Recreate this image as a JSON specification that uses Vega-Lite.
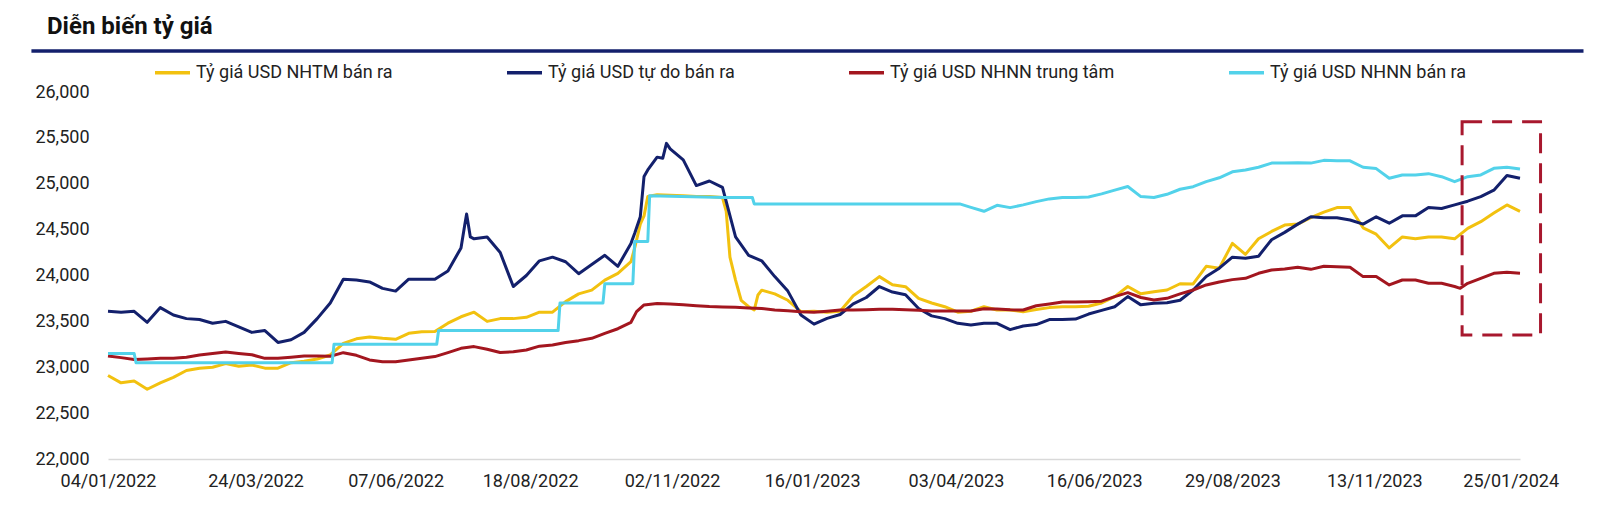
{
  "$schema": "https://vega.github.io/schema/vega-lite/v6.json",
  "width": 1412,
  "height": 367,
  "autosize": {"type": "none"},
  "padding": {"left": 108, "top": 92, "right": 80, "bottom": 58},
  "background": "white",
  "title": {"text": "Diễn biến tỷ giá", "anchor": "start", "frame": "group", "font": "Roboto", "fontSize": 24, "fontWeight": "bold", "color": "#111111", "dx": -61, "dy": 19, "baseline": "alphabetic", "offset": 10},
  "config": {"view": {"stroke": null}, "axisY": {"format": ",.0f"}},
  "layer": [
    {
      "data": {"values": [
        {"d":"2022-01-04","s":"Tỷ giá USD NHTM bán ra","v":22910},{"d":"2022-01-11","s":"Tỷ giá USD NHTM bán ra","v":22830},{"d":"2022-01-18","s":"Tỷ giá USD NHTM bán ra","v":22850},{"d":"2022-01-25","s":"Tỷ giá USD NHTM bán ra","v":22760},{"d":"2022-02-01","s":"Tỷ giá USD NHTM bán ra","v":22830},{"d":"2022-02-08","s":"Tỷ giá USD NHTM bán ra","v":22890},{"d":"2022-02-15","s":"Tỷ giá USD NHTM bán ra","v":22965},{"d":"2022-02-22","s":"Tỷ giá USD NHTM bán ra","v":22990},{"d":"2022-03-01","s":"Tỷ giá USD NHTM bán ra","v":23000},{"d":"2022-03-08","s":"Tỷ giá USD NHTM bán ra","v":23040},{"d":"2022-03-15","s":"Tỷ giá USD NHTM bán ra","v":23010},{"d":"2022-03-22","s":"Tỷ giá USD NHTM bán ra","v":23025},{"d":"2022-03-29","s":"Tỷ giá USD NHTM bán ra","v":22990},{"d":"2022-04-05","s":"Tỷ giá USD NHTM bán ra","v":22990},{"d":"2022-04-12","s":"Tỷ giá USD NHTM bán ra","v":23050},{"d":"2022-04-19","s":"Tỷ giá USD NHTM bán ra","v":23065},{"d":"2022-04-26","s":"Tỷ giá USD NHTM bán ra","v":23090},{"d":"2022-05-03","s":"Tỷ giá USD NHTM bán ra","v":23134},{"d":"2022-05-10","s":"Tỷ giá USD NHTM bán ra","v":23261},{"d":"2022-05-17","s":"Tỷ giá USD NHTM bán ra","v":23310},{"d":"2022-05-24","s":"Tỷ giá USD NHTM bán ra","v":23330},{"d":"2022-05-31","s":"Tỷ giá USD NHTM bán ra","v":23315},{"d":"2022-06-07","s":"Tỷ giá USD NHTM bán ra","v":23305},{"d":"2022-06-14","s":"Tỷ giá USD NHTM bán ra","v":23370},{"d":"2022-06-21","s":"Tỷ giá USD NHTM bán ra","v":23388},{"d":"2022-06-28","s":"Tỷ giá USD NHTM bán ra","v":23390},{"d":"2022-07-05","s":"Tỷ giá USD NHTM bán ra","v":23480},{"d":"2022-07-12","s":"Tỷ giá USD NHTM bán ra","v":23550},{"d":"2022-07-19","s":"Tỷ giá USD NHTM bán ra","v":23600},{"d":"2022-07-26","s":"Tỷ giá USD NHTM bán ra","v":23500},{"d":"2022-08-02","s":"Tỷ giá USD NHTM bán ra","v":23530},{"d":"2022-08-09","s":"Tỷ giá USD NHTM bán ra","v":23530},{"d":"2022-08-16","s":"Tỷ giá USD NHTM bán ra","v":23544},{"d":"2022-08-23","s":"Tỷ giá USD NHTM bán ra","v":23600},{"d":"2022-08-30","s":"Tỷ giá USD NHTM bán ra","v":23600},{"d":"2022-09-06","s":"Tỷ giá USD NHTM bán ra","v":23715},{"d":"2022-09-13","s":"Tỷ giá USD NHTM bán ra","v":23800},{"d":"2022-09-20","s":"Tỷ giá USD NHTM bán ra","v":23840},{"d":"2022-09-27","s":"Tỷ giá USD NHTM bán ra","v":23950},{"d":"2022-10-04","s":"Tỷ giá USD NHTM bán ra","v":24024},{"d":"2022-10-11","s":"Tỷ giá USD NHTM bán ra","v":24150},{"d":"2022-10-13","s":"Tỷ giá USD NHTM bán ra","v":24300},{"d":"2022-10-16","s":"Tỷ giá USD NHTM bán ra","v":24560},{"d":"2022-10-18","s":"Tỷ giá USD NHTM bán ra","v":24650},{"d":"2022-10-20","s":"Tỷ giá USD NHTM bán ra","v":24860},{"d":"2022-10-25","s":"Tỷ giá USD NHTM bán ra","v":24880},{"d":"2022-11-01","s":"Tỷ giá USD NHTM bán ra","v":24875},{"d":"2022-11-08","s":"Tỷ giá USD NHTM bán ra","v":24870},{"d":"2022-11-15","s":"Tỷ giá USD NHTM bán ra","v":24860},{"d":"2022-11-22","s":"Tỷ giá USD NHTM bán ra","v":24860},{"d":"2022-11-29","s":"Tỷ giá USD NHTM bán ra","v":24850},{"d":"2022-12-01","s":"Tỷ giá USD NHTM bán ra","v":24700},{"d":"2022-12-03","s":"Tỷ giá USD NHTM bán ra","v":24200},{"d":"2022-12-06","s":"Tỷ giá USD NHTM bán ra","v":23950},{"d":"2022-12-09","s":"Tỷ giá USD NHTM bán ra","v":23730},{"d":"2022-12-13","s":"Tỷ giá USD NHTM bán ra","v":23660},{"d":"2022-12-16","s":"Tỷ giá USD NHTM bán ra","v":23624},{"d":"2022-12-18","s":"Tỷ giá USD NHTM bán ra","v":23788},{"d":"2022-12-20","s":"Tỷ giá USD NHTM bán ra","v":23840},{"d":"2022-12-27","s":"Tỷ giá USD NHTM bán ra","v":23800},{"d":"2023-01-03","s":"Tỷ giá USD NHTM bán ra","v":23730},{"d":"2023-01-10","s":"Tỷ giá USD NHTM bán ra","v":23606},{"d":"2023-01-17","s":"Tỷ giá USD NHTM bán ra","v":23610},{"d":"2023-01-24","s":"Tỷ giá USD NHTM bán ra","v":23600},{"d":"2023-01-31","s":"Tỷ giá USD NHTM bán ra","v":23610},{"d":"2023-02-07","s":"Tỷ giá USD NHTM bán ra","v":23780},{"d":"2023-02-14","s":"Tỷ giá USD NHTM bán ra","v":23880},{"d":"2023-02-21","s":"Tỷ giá USD NHTM bán ra","v":23988},{"d":"2023-02-28","s":"Tỷ giá USD NHTM bán ra","v":23900},{"d":"2023-03-07","s":"Tỷ giá USD NHTM bán ra","v":23878},{"d":"2023-03-14","s":"Tỷ giá USD NHTM bán ra","v":23750},{"d":"2023-03-21","s":"Tỷ giá USD NHTM bán ra","v":23700},{"d":"2023-03-28","s":"Tỷ giá USD NHTM bán ra","v":23660},{"d":"2023-04-04","s":"Tỷ giá USD NHTM bán ra","v":23600},{"d":"2023-04-11","s":"Tỷ giá USD NHTM bán ra","v":23610},{"d":"2023-04-18","s":"Tỷ giá USD NHTM bán ra","v":23660},{"d":"2023-04-25","s":"Tỷ giá USD NHTM bán ra","v":23624},{"d":"2023-05-02","s":"Tỷ giá USD NHTM bán ra","v":23624},{"d":"2023-05-09","s":"Tỷ giá USD NHTM bán ra","v":23606},{"d":"2023-05-16","s":"Tỷ giá USD NHTM bán ra","v":23630},{"d":"2023-05-23","s":"Tỷ giá USD NHTM bán ra","v":23650},{"d":"2023-05-30","s":"Tỷ giá USD NHTM bán ra","v":23660},{"d":"2023-06-06","s":"Tỷ giá USD NHTM bán ra","v":23660},{"d":"2023-06-13","s":"Tỷ giá USD NHTM bán ra","v":23665},{"d":"2023-06-20","s":"Tỷ giá USD NHTM bán ra","v":23700},{"d":"2023-06-27","s":"Tỷ giá USD NHTM bán ra","v":23770},{"d":"2023-07-04","s":"Tỷ giá USD NHTM bán ra","v":23880},{"d":"2023-07-11","s":"Tỷ giá USD NHTM bán ra","v":23800},{"d":"2023-07-18","s":"Tỷ giá USD NHTM bán ra","v":23824},{"d":"2023-07-25","s":"Tỷ giá USD NHTM bán ra","v":23842},{"d":"2023-08-01","s":"Tỷ giá USD NHTM bán ra","v":23910},{"d":"2023-08-08","s":"Tỷ giá USD NHTM bán ra","v":23908},{"d":"2023-08-15","s":"Tỷ giá USD NHTM bán ra","v":24100},{"d":"2023-08-22","s":"Tỷ giá USD NHTM bán ra","v":24080},{"d":"2023-08-29","s":"Tỷ giá USD NHTM bán ra","v":24350},{"d":"2023-09-05","s":"Tỷ giá USD NHTM bán ra","v":24230},{"d":"2023-09-12","s":"Tỷ giá USD NHTM bán ra","v":24400},{"d":"2023-09-19","s":"Tỷ giá USD NHTM bán ra","v":24480},{"d":"2023-09-26","s":"Tỷ giá USD NHTM bán ra","v":24550},{"d":"2023-10-03","s":"Tỷ giá USD NHTM bán ra","v":24560},{"d":"2023-10-10","s":"Tỷ giá USD NHTM bán ra","v":24630},{"d":"2023-10-17","s":"Tỷ giá USD NHTM bán ra","v":24690},{"d":"2023-10-24","s":"Tỷ giá USD NHTM bán ra","v":24740},{"d":"2023-10-31","s":"Tỷ giá USD NHTM bán ra","v":24740},{"d":"2023-11-07","s":"Tỷ giá USD NHTM bán ra","v":24520},{"d":"2023-11-14","s":"Tỷ giá USD NHTM bán ra","v":24450},{"d":"2023-11-21","s":"Tỷ giá USD NHTM bán ra","v":24300},{"d":"2023-11-28","s":"Tỷ giá USD NHTM bán ra","v":24420},{"d":"2023-12-05","s":"Tỷ giá USD NHTM bán ra","v":24400},{"d":"2023-12-12","s":"Tỷ giá USD NHTM bán ra","v":24420},{"d":"2023-12-19","s":"Tỷ giá USD NHTM bán ra","v":24420},{"d":"2023-12-26","s":"Tỷ giá USD NHTM bán ra","v":24400},{"d":"2024-01-02","s":"Tỷ giá USD NHTM bán ra","v":24514},{"d":"2024-01-09","s":"Tỷ giá USD NHTM bán ra","v":24587},{"d":"2024-01-16","s":"Tỷ giá USD NHTM bán ra","v":24680},{"d":"2024-01-23","s":"Tỷ giá USD NHTM bán ra","v":24769},{"d":"2024-01-30","s":"Tỷ giá USD NHTM bán ra","v":24700},
        {"d":"2022-01-04","s":"Tỷ giá USD tự do bán ra","v":23610},{"d":"2022-01-11","s":"Tỷ giá USD tự do bán ra","v":23600},{"d":"2022-01-18","s":"Tỷ giá USD tự do bán ra","v":23610},{"d":"2022-01-25","s":"Tỷ giá USD tự do bán ra","v":23490},{"d":"2022-02-01","s":"Tỷ giá USD tự do bán ra","v":23650},{"d":"2022-02-08","s":"Tỷ giá USD tự do bán ra","v":23570},{"d":"2022-02-15","s":"Tỷ giá USD tự do bán ra","v":23530},{"d":"2022-02-22","s":"Tỷ giá USD tự do bán ra","v":23520},{"d":"2022-03-01","s":"Tỷ giá USD tự do bán ra","v":23480},{"d":"2022-03-08","s":"Tỷ giá USD tự do bán ra","v":23500},{"d":"2022-03-15","s":"Tỷ giá USD tự do bán ra","v":23440},{"d":"2022-03-22","s":"Tỷ giá USD tự do bán ra","v":23380},{"d":"2022-03-29","s":"Tỷ giá USD tự do bán ra","v":23400},{"d":"2022-04-05","s":"Tỷ giá USD tự do bán ra","v":23270},{"d":"2022-04-12","s":"Tỷ giá USD tự do bán ra","v":23300},{"d":"2022-04-19","s":"Tỷ giá USD tự do bán ra","v":23380},{"d":"2022-04-26","s":"Tỷ giá USD tự do bán ra","v":23530},{"d":"2022-05-03","s":"Tỷ giá USD tự do bán ra","v":23700},{"d":"2022-05-10","s":"Tỷ giá USD tự do bán ra","v":23960},{"d":"2022-05-17","s":"Tỷ giá USD tự do bán ra","v":23950},{"d":"2022-05-24","s":"Tỷ giá USD tự do bán ra","v":23930},{"d":"2022-05-31","s":"Tỷ giá USD tự do bán ra","v":23860},{"d":"2022-06-07","s":"Tỷ giá USD tự do bán ra","v":23830},{"d":"2022-06-14","s":"Tỷ giá USD tự do bán ra","v":23960},{"d":"2022-06-21","s":"Tỷ giá USD tự do bán ra","v":23960},{"d":"2022-06-28","s":"Tỷ giá USD tự do bán ra","v":23960},{"d":"2022-07-05","s":"Tỷ giá USD tự do bán ra","v":24050},{"d":"2022-07-12","s":"Tỷ giá USD tự do bán ra","v":24300},{"d":"2022-07-14","s":"Tỷ giá USD tự do bán ra","v":24550},{"d":"2022-07-15","s":"Tỷ giá USD tự do bán ra","v":24670},{"d":"2022-07-17","s":"Tỷ giá USD tự do bán ra","v":24420},{"d":"2022-07-19","s":"Tỷ giá USD tự do bán ra","v":24400},{"d":"2022-07-26","s":"Tỷ giá USD tự do bán ra","v":24420},{"d":"2022-08-02","s":"Tỷ giá USD tự do bán ra","v":24250},{"d":"2022-08-09","s":"Tỷ giá USD tự do bán ra","v":23880},{"d":"2022-08-16","s":"Tỷ giá USD tự do bán ra","v":24000},{"d":"2022-08-23","s":"Tỷ giá USD tự do bán ra","v":24160},{"d":"2022-08-30","s":"Tỷ giá USD tự do bán ra","v":24200},{"d":"2022-09-06","s":"Tỷ giá USD tự do bán ra","v":24150},{"d":"2022-09-13","s":"Tỷ giá USD tự do bán ra","v":24020},{"d":"2022-09-20","s":"Tỷ giá USD tự do bán ra","v":24120},{"d":"2022-09-27","s":"Tỷ giá USD tự do bán ra","v":24220},{"d":"2022-10-04","s":"Tỷ giá USD tự do bán ra","v":24100},{"d":"2022-10-11","s":"Tỷ giá USD tự do bán ra","v":24350},{"d":"2022-10-13","s":"Tỷ giá USD tự do bán ra","v":24460},{"d":"2022-10-16","s":"Tỷ giá USD tự do bán ra","v":24641},{"d":"2022-10-18","s":"Tỷ giá USD tự do bán ra","v":25080},{"d":"2022-10-20","s":"Tỷ giá USD tự do bán ra","v":25150},{"d":"2022-10-25","s":"Tỷ giá USD tự do bán ra","v":25290},{"d":"2022-10-28","s":"Tỷ giá USD tự do bán ra","v":25277},{"d":"2022-10-30","s":"Tỷ giá USD tự do bán ra","v":25440},{"d":"2022-11-01","s":"Tỷ giá USD tự do bán ra","v":25380},{"d":"2022-11-08","s":"Tỷ giá USD tự do bán ra","v":25260},{"d":"2022-11-15","s":"Tỷ giá USD tự do bán ra","v":24980},{"d":"2022-11-22","s":"Tỷ giá USD tự do bán ra","v":25030},{"d":"2022-11-29","s":"Tỷ giá USD tự do bán ra","v":24960},{"d":"2022-12-06","s":"Tỷ giá USD tự do bán ra","v":24420},{"d":"2022-12-13","s":"Tỷ giá USD tự do bán ra","v":24220},{"d":"2022-12-20","s":"Tỷ giá USD tự do bán ra","v":24160},{"d":"2022-12-27","s":"Tỷ giá USD tự do bán ra","v":23988},{"d":"2023-01-03","s":"Tỷ giá USD tự do bán ra","v":23830},{"d":"2023-01-10","s":"Tỷ giá USD tự do bán ra","v":23570},{"d":"2023-01-17","s":"Tỷ giá USD tự do bán ra","v":23470},{"d":"2023-01-24","s":"Tỷ giá USD tự do bán ra","v":23533},{"d":"2023-01-31","s":"Tỷ giá USD tự do bán ra","v":23575},{"d":"2023-02-07","s":"Tỷ giá USD tự do bán ra","v":23690},{"d":"2023-02-14","s":"Tỷ giá USD tự do bán ra","v":23760},{"d":"2023-02-21","s":"Tỷ giá USD tự do bán ra","v":23880},{"d":"2023-02-28","s":"Tỷ giá USD tự do bán ra","v":23820},{"d":"2023-03-07","s":"Tỷ giá USD tự do bán ra","v":23790},{"d":"2023-03-14","s":"Tỷ giá USD tự do bán ra","v":23640},{"d":"2023-03-21","s":"Tỷ giá USD tự do bán ra","v":23560},{"d":"2023-03-28","s":"Tỷ giá USD tự do bán ra","v":23530},{"d":"2023-04-04","s":"Tỷ giá USD tự do bán ra","v":23479},{"d":"2023-04-11","s":"Tỷ giá USD tự do bán ra","v":23461},{"d":"2023-04-18","s":"Tỷ giá USD tự do bán ra","v":23480},{"d":"2023-04-25","s":"Tỷ giá USD tự do bán ra","v":23479},{"d":"2023-05-02","s":"Tỷ giá USD tự do bán ra","v":23410},{"d":"2023-05-09","s":"Tỷ giá USD tự do bán ra","v":23450},{"d":"2023-05-16","s":"Tỷ giá USD tự do bán ra","v":23465},{"d":"2023-05-23","s":"Tỷ giá USD tự do bán ra","v":23520},{"d":"2023-05-30","s":"Tỷ giá USD tự do bán ra","v":23520},{"d":"2023-06-06","s":"Tỷ giá USD tự do bán ra","v":23525},{"d":"2023-06-13","s":"Tỷ giá USD tự do bán ra","v":23580},{"d":"2023-06-20","s":"Tỷ giá USD tự do bán ra","v":23620},{"d":"2023-06-27","s":"Tỷ giá USD tự do bán ra","v":23660},{"d":"2023-07-04","s":"Tỷ giá USD tự do bán ra","v":23770},{"d":"2023-07-11","s":"Tỷ giá USD tự do bán ra","v":23680},{"d":"2023-07-18","s":"Tỷ giá USD tự do bán ra","v":23697},{"d":"2023-07-25","s":"Tỷ giá USD tự do bán ra","v":23704},{"d":"2023-08-01","s":"Tỷ giá USD tự do bán ra","v":23730},{"d":"2023-08-08","s":"Tỷ giá USD tự do bán ra","v":23842},{"d":"2023-08-15","s":"Tỷ giá USD tự do bán ra","v":23990},{"d":"2023-08-22","s":"Tỷ giá USD tự do bán ra","v":24080},{"d":"2023-08-29","s":"Tỷ giá USD tự do bán ra","v":24200},{"d":"2023-09-05","s":"Tỷ giá USD tự do bán ra","v":24187},{"d":"2023-09-12","s":"Tỷ giá USD tự do bán ra","v":24210},{"d":"2023-09-19","s":"Tỷ giá USD tự do bán ra","v":24390},{"d":"2023-09-26","s":"Tỷ giá USD tự do bán ra","v":24470},{"d":"2023-10-03","s":"Tỷ giá USD tự do bán ra","v":24560},{"d":"2023-10-10","s":"Tỷ giá USD tự do bán ra","v":24641},{"d":"2023-10-17","s":"Tỷ giá USD tự do bán ra","v":24630},{"d":"2023-10-24","s":"Tỷ giá USD tự do bán ra","v":24630},{"d":"2023-10-31","s":"Tỷ giá USD tự do bán ra","v":24605},{"d":"2023-11-07","s":"Tỷ giá USD tự do bán ra","v":24560},{"d":"2023-11-14","s":"Tỷ giá USD tự do bán ra","v":24640},{"d":"2023-11-21","s":"Tỷ giá USD tự do bán ra","v":24570},{"d":"2023-11-28","s":"Tỷ giá USD tự do bán ra","v":24650},{"d":"2023-12-05","s":"Tỷ giá USD tự do bán ra","v":24650},{"d":"2023-12-12","s":"Tỷ giá USD tự do bán ra","v":24740},{"d":"2023-12-19","s":"Tỷ giá USD tự do bán ra","v":24730},{"d":"2023-12-26","s":"Tỷ giá USD tự do bán ra","v":24770},{"d":"2024-01-02","s":"Tỷ giá USD tự do bán ra","v":24810},{"d":"2024-01-09","s":"Tỷ giá USD tự do bán ra","v":24860},{"d":"2024-01-16","s":"Tỷ giá USD tự do bán ra","v":24930},{"d":"2024-01-23","s":"Tỷ giá USD tự do bán ra","v":25090},{"d":"2024-01-30","s":"Tỷ giá USD tự do bán ra","v":25060},
        {"d":"2022-01-04","s":"Tỷ giá USD NHNN trung tâm","v":23123},{"d":"2022-01-11","s":"Tỷ giá USD NHNN trung tâm","v":23105},{"d":"2022-01-18","s":"Tỷ giá USD NHNN trung tâm","v":23085},{"d":"2022-01-25","s":"Tỷ giá USD NHNN trung tâm","v":23090},{"d":"2022-02-01","s":"Tỷ giá USD NHNN trung tâm","v":23097},{"d":"2022-02-08","s":"Tỷ giá USD NHNN trung tâm","v":23097},{"d":"2022-02-15","s":"Tỷ giá USD NHNN trung tâm","v":23110},{"d":"2022-02-22","s":"Tỷ giá USD NHNN trung tâm","v":23134},{"d":"2022-03-01","s":"Tỷ giá USD NHNN trung tâm","v":23150},{"d":"2022-03-08","s":"Tỷ giá USD NHNN trung tâm","v":23165},{"d":"2022-03-15","s":"Tỷ giá USD NHNN trung tâm","v":23150},{"d":"2022-03-22","s":"Tỷ giá USD NHNN trung tâm","v":23136},{"d":"2022-03-29","s":"Tỷ giá USD NHNN trung tâm","v":23097},{"d":"2022-04-05","s":"Tỷ giá USD NHNN trung tâm","v":23097},{"d":"2022-04-12","s":"Tỷ giá USD NHNN trung tâm","v":23110},{"d":"2022-04-19","s":"Tỷ giá USD NHNN trung tâm","v":23123},{"d":"2022-04-26","s":"Tỷ giá USD NHNN trung tâm","v":23123},{"d":"2022-05-03","s":"Tỷ giá USD NHNN trung tâm","v":23120},{"d":"2022-05-10","s":"Tỷ giá USD NHNN trung tâm","v":23159},{"d":"2022-05-17","s":"Tỷ giá USD NHNN trung tâm","v":23130},{"d":"2022-05-24","s":"Tỷ giá USD NHNN trung tâm","v":23080},{"d":"2022-05-31","s":"Tỷ giá USD NHNN trung tâm","v":23061},{"d":"2022-06-07","s":"Tỷ giá USD NHNN trung tâm","v":23061},{"d":"2022-06-14","s":"Tỷ giá USD NHNN trung tâm","v":23079},{"d":"2022-06-21","s":"Tỷ giá USD NHNN trung tâm","v":23097},{"d":"2022-06-28","s":"Tỷ giá USD NHNN trung tâm","v":23116},{"d":"2022-07-05","s":"Tỷ giá USD NHNN trung tâm","v":23160},{"d":"2022-07-12","s":"Tỷ giá USD NHNN trung tâm","v":23206},{"d":"2022-07-19","s":"Tỷ giá USD NHNN trung tâm","v":23225},{"d":"2022-07-26","s":"Tỷ giá USD NHNN trung tâm","v":23196},{"d":"2022-08-02","s":"Tỷ giá USD NHNN trung tâm","v":23160},{"d":"2022-08-09","s":"Tỷ giá USD NHNN trung tâm","v":23170},{"d":"2022-08-16","s":"Tỷ giá USD NHNN trung tâm","v":23188},{"d":"2022-08-23","s":"Tỷ giá USD NHNN trung tâm","v":23230},{"d":"2022-08-30","s":"Tỷ giá USD NHNN trung tâm","v":23243},{"d":"2022-09-06","s":"Tỷ giá USD NHNN trung tâm","v":23270},{"d":"2022-09-13","s":"Tỷ giá USD NHNN trung tâm","v":23290},{"d":"2022-09-20","s":"Tỷ giá USD NHNN trung tâm","v":23315},{"d":"2022-09-27","s":"Tỷ giá USD NHNN trung tâm","v":23370},{"d":"2022-10-04","s":"Tỷ giá USD NHNN trung tâm","v":23420},{"d":"2022-10-11","s":"Tỷ giá USD NHNN trung tâm","v":23490},{"d":"2022-10-14","s":"Tỷ giá USD NHNN trung tâm","v":23606},{"d":"2022-10-18","s":"Tỷ giá USD NHNN trung tâm","v":23679},{"d":"2022-10-25","s":"Tỷ giá USD NHNN trung tâm","v":23695},{"d":"2022-11-01","s":"Tỷ giá USD NHNN trung tâm","v":23690},{"d":"2022-11-08","s":"Tỷ giá USD NHNN trung tâm","v":23680},{"d":"2022-11-15","s":"Tỷ giá USD NHNN trung tâm","v":23670},{"d":"2022-11-22","s":"Tỷ giá USD NHNN trung tâm","v":23662},{"d":"2022-11-29","s":"Tỷ giá USD NHNN trung tâm","v":23658},{"d":"2022-12-06","s":"Tỷ giá USD NHNN trung tâm","v":23653},{"d":"2022-12-13","s":"Tỷ giá USD NHNN trung tâm","v":23645},{"d":"2022-12-20","s":"Tỷ giá USD NHNN trung tâm","v":23640},{"d":"2022-12-27","s":"Tỷ giá USD NHNN trung tâm","v":23624},{"d":"2023-01-03","s":"Tỷ giá USD NHNN trung tâm","v":23615},{"d":"2023-01-10","s":"Tỷ giá USD NHNN trung tâm","v":23605},{"d":"2023-01-17","s":"Tỷ giá USD NHNN trung tâm","v":23599},{"d":"2023-01-24","s":"Tỷ giá USD NHNN trung tâm","v":23610},{"d":"2023-01-31","s":"Tỷ giá USD NHNN trung tâm","v":23624},{"d":"2023-02-07","s":"Tỷ giá USD NHNN trung tâm","v":23624},{"d":"2023-02-14","s":"Tỷ giá USD NHNN trung tâm","v":23628},{"d":"2023-02-21","s":"Tỷ giá USD NHNN trung tâm","v":23631},{"d":"2023-02-28","s":"Tỷ giá USD NHNN trung tâm","v":23631},{"d":"2023-03-07","s":"Tỷ giá USD NHNN trung tâm","v":23626},{"d":"2023-03-14","s":"Tỷ giá USD NHNN trung tâm","v":23620},{"d":"2023-03-21","s":"Tỷ giá USD NHNN trung tâm","v":23613},{"d":"2023-03-28","s":"Tỷ giá USD NHNN trung tâm","v":23613},{"d":"2023-04-04","s":"Tỷ giá USD NHNN trung tâm","v":23613},{"d":"2023-04-11","s":"Tỷ giá USD NHNN trung tâm","v":23613},{"d":"2023-04-18","s":"Tỷ giá USD NHNN trung tâm","v":23638},{"d":"2023-04-25","s":"Tỷ giá USD NHNN trung tâm","v":23635},{"d":"2023-05-02","s":"Tỷ giá USD NHNN trung tâm","v":23626},{"d":"2023-05-09","s":"Tỷ giá USD NHNN trung tâm","v":23624},{"d":"2023-05-16","s":"Tỷ giá USD NHNN trung tâm","v":23670},{"d":"2023-05-23","s":"Tỷ giá USD NHNN trung tâm","v":23690},{"d":"2023-05-30","s":"Tỷ giá USD NHNN trung tâm","v":23710},{"d":"2023-06-06","s":"Tỷ giá USD NHNN trung tâm","v":23712},{"d":"2023-06-13","s":"Tỷ giá USD NHNN trung tâm","v":23715},{"d":"2023-06-20","s":"Tỷ giá USD NHNN trung tâm","v":23720},{"d":"2023-06-27","s":"Tỷ giá USD NHNN trung tâm","v":23770},{"d":"2023-07-04","s":"Tỷ giá USD NHNN trung tâm","v":23813},{"d":"2023-07-11","s":"Tỷ giá USD NHNN trung tâm","v":23760},{"d":"2023-07-18","s":"Tỷ giá USD NHNN trung tâm","v":23733},{"d":"2023-07-25","s":"Tỷ giá USD NHNN trung tâm","v":23751},{"d":"2023-08-01","s":"Tỷ giá USD NHNN trung tâm","v":23800},{"d":"2023-08-08","s":"Tỷ giá USD NHNN trung tâm","v":23842},{"d":"2023-08-15","s":"Tỷ giá USD NHNN trung tâm","v":23897},{"d":"2023-08-22","s":"Tỷ giá USD NHNN trung tâm","v":23930},{"d":"2023-08-29","s":"Tỷ giá USD NHNN trung tâm","v":23955},{"d":"2023-09-05","s":"Tỷ giá USD NHNN trung tâm","v":23969},{"d":"2023-09-12","s":"Tỷ giá USD NHNN trung tâm","v":24024},{"d":"2023-09-19","s":"Tỷ giá USD NHNN trung tâm","v":24060},{"d":"2023-09-26","s":"Tỷ giá USD NHNN trung tâm","v":24070},{"d":"2023-10-03","s":"Tỷ giá USD NHNN trung tâm","v":24089},{"d":"2023-10-10","s":"Tỷ giá USD NHNN trung tâm","v":24067},{"d":"2023-10-17","s":"Tỷ giá USD NHNN trung tâm","v":24100},{"d":"2023-10-24","s":"Tỷ giá USD NHNN trung tâm","v":24096},{"d":"2023-10-31","s":"Tỷ giá USD NHNN trung tâm","v":24090},{"d":"2023-11-07","s":"Tỷ giá USD NHNN trung tâm","v":23988},{"d":"2023-11-14","s":"Tỷ giá USD NHNN trung tâm","v":23988},{"d":"2023-11-21","s":"Tỷ giá USD NHNN trung tâm","v":23897},{"d":"2023-11-28","s":"Tỷ giá USD NHNN trung tâm","v":23951},{"d":"2023-12-05","s":"Tỷ giá USD NHNN trung tâm","v":23951},{"d":"2023-12-12","s":"Tỷ giá USD NHNN trung tâm","v":23915},{"d":"2023-12-19","s":"Tỷ giá USD NHNN trung tâm","v":23915},{"d":"2023-12-26","s":"Tỷ giá USD NHNN trung tâm","v":23880},{"d":"2023-12-29","s":"Tỷ giá USD NHNN trung tâm","v":23860},{"d":"2024-01-02","s":"Tỷ giá USD NHNN trung tâm","v":23915},{"d":"2024-01-09","s":"Tỷ giá USD NHNN trung tâm","v":23969},{"d":"2024-01-16","s":"Tỷ giá USD NHNN trung tâm","v":24024},{"d":"2024-01-23","s":"Tỷ giá USD NHNN trung tâm","v":24035},{"d":"2024-01-30","s":"Tỷ giá USD NHNN trung tâm","v":24024},
        {"d":"2022-01-04","s":"Tỷ giá USD NHNN bán ra","v":23150},{"d":"2022-01-18","s":"Tỷ giá USD NHNN bán ra","v":23150},{"d":"2022-01-19","s":"Tỷ giá USD NHNN bán ra","v":23050},{"d":"2022-05-04","s":"Tỷ giá USD NHNN bán ra","v":23050},{"d":"2022-05-05","s":"Tỷ giá USD NHNN bán ra","v":23250},{"d":"2022-06-29","s":"Tỷ giá USD NHNN bán ra","v":23250},{"d":"2022-06-30","s":"Tỷ giá USD NHNN bán ra","v":23400},{"d":"2022-09-02","s":"Tỷ giá USD NHNN bán ra","v":23400},{"d":"2022-09-03","s":"Tỷ giá USD NHNN bán ra","v":23700},{"d":"2022-09-26","s":"Tỷ giá USD NHNN bán ra","v":23700},{"d":"2022-09-27","s":"Tỷ giá USD NHNN bán ra","v":23910},{"d":"2022-10-12","s":"Tỷ giá USD NHNN bán ra","v":23910},{"d":"2022-10-13","s":"Tỷ giá USD NHNN bán ra","v":24370},{"d":"2022-10-20","s":"Tỷ giá USD NHNN bán ra","v":24370},{"d":"2022-10-21","s":"Tỷ giá USD NHNN bán ra","v":24870},{"d":"2022-11-30","s":"Tỷ giá USD NHNN bán ra","v":24850},{"d":"2022-12-15","s":"Tỷ giá USD NHNN bán ra","v":24850},{"d":"2022-12-16","s":"Tỷ giá USD NHNN bán ra","v":24780},{"d":"2023-04-05","s":"Tỷ giá USD NHNN bán ra","v":24780},{"d":"2023-04-11","s":"Tỷ giá USD NHNN bán ra","v":24743},{"d":"2023-04-18","s":"Tỷ giá USD NHNN bán ra","v":24700},{"d":"2023-04-25","s":"Tỷ giá USD NHNN bán ra","v":24765},{"d":"2023-05-02","s":"Tỷ giá USD NHNN bán ra","v":24740},{"d":"2023-05-09","s":"Tỷ giá USD NHNN bán ra","v":24770},{"d":"2023-05-16","s":"Tỷ giá USD NHNN bán ra","v":24805},{"d":"2023-05-23","s":"Tỷ giá USD NHNN bán ra","v":24835},{"d":"2023-05-30","s":"Tỷ giá USD NHNN bán ra","v":24850},{"d":"2023-06-06","s":"Tỷ giá USD NHNN bán ra","v":24850},{"d":"2023-06-13","s":"Tỷ giá USD NHNN bán ra","v":24855},{"d":"2023-06-20","s":"Tỷ giá USD NHNN bán ra","v":24890},{"d":"2023-06-27","s":"Tỷ giá USD NHNN bán ra","v":24930},{"d":"2023-07-04","s":"Tỷ giá USD NHNN bán ra","v":24970},{"d":"2023-07-11","s":"Tỷ giá USD NHNN bán ra","v":24860},{"d":"2023-07-18","s":"Tỷ giá USD NHNN bán ra","v":24850},{"d":"2023-07-25","s":"Tỷ giá USD NHNN bán ra","v":24885},{"d":"2023-08-01","s":"Tỷ giá USD NHNN bán ra","v":24940},{"d":"2023-08-08","s":"Tỷ giá USD NHNN bán ra","v":24968},{"d":"2023-08-15","s":"Tỷ giá USD NHNN bán ra","v":25023},{"d":"2023-08-22","s":"Tỷ giá USD NHNN bán ra","v":25065},{"d":"2023-08-29","s":"Tỷ giá USD NHNN bán ra","v":25130},{"d":"2023-09-05","s":"Tỷ giá USD NHNN bán ra","v":25150},{"d":"2023-09-12","s":"Tỷ giá USD NHNN bán ra","v":25180},{"d":"2023-09-19","s":"Tỷ giá USD NHNN bán ra","v":25225},{"d":"2023-09-26","s":"Tỷ giá USD NHNN bán ra","v":25225},{"d":"2023-10-03","s":"Tỷ giá USD NHNN bán ra","v":25230},{"d":"2023-10-10","s":"Tỷ giá USD NHNN bán ra","v":25225},{"d":"2023-10-17","s":"Tỷ giá USD NHNN bán ra","v":25255},{"d":"2023-10-24","s":"Tỷ giá USD NHNN bán ra","v":25252},{"d":"2023-10-31","s":"Tỷ giá USD NHNN bán ra","v":25250},{"d":"2023-11-07","s":"Tỷ giá USD NHNN bán ra","v":25180},{"d":"2023-11-14","s":"Tỷ giá USD NHNN bán ra","v":25165},{"d":"2023-11-21","s":"Tỷ giá USD NHNN bán ra","v":25060},{"d":"2023-11-28","s":"Tỷ giá USD NHNN bán ra","v":25096},{"d":"2023-12-05","s":"Tỷ giá USD NHNN bán ra","v":25096},{"d":"2023-12-12","s":"Tỷ giá USD NHNN bán ra","v":25110},{"d":"2023-12-19","s":"Tỷ giá USD NHNN bán ra","v":25077},{"d":"2023-12-26","s":"Tỷ giá USD NHNN bán ra","v":25023},{"d":"2024-01-02","s":"Tỷ giá USD NHNN bán ra","v":25077},{"d":"2024-01-09","s":"Tỷ giá USD NHNN bán ra","v":25096},{"d":"2024-01-16","s":"Tỷ giá USD NHNN bán ra","v":25168},{"d":"2024-01-23","s":"Tỷ giá USD NHNN bán ra","v":25179},{"d":"2024-01-30","s":"Tỷ giá USD NHNN bán ra","v":25160}
      ]},
      "mark": {"type": "line", "strokeWidth": 3, "strokeJoin": "round"},
      "encoding": {
        "x": {"field": "d", "type": "temporal",
              "scale": {"type": "utc", "domain": [{"year": 2022, "month": 1, "date": 4, "utc": true}, {"year": 2024, "month": 1, "date": 30, "utc": true}]},
              "axis": {"title": null, "format": "%d/%m/%Y", "values": [
                {"year": 2022, "month": 1, "date": 4, "utc": true},
                {"year": 2022, "month": 3, "date": 24, "utc": true},
                {"year": 2022, "month": 6, "date": 7, "utc": true},
                {"year": 2022, "month": 8, "date": 18, "utc": true},
                {"year": 2022, "month": 11, "date": 2, "utc": true},
                {"year": 2023, "month": 1, "date": 16, "utc": true},
                {"year": 2023, "month": 4, "date": 3, "utc": true},
                {"year": 2023, "month": 6, "date": 16, "utc": true},
                {"year": 2023, "month": 8, "date": 29, "utc": true},
                {"year": 2023, "month": 11, "date": 13, "utc": true},
                {"year": 2024, "month": 1, "date": 25, "utc": true}],
                "labelFont": "Roboto", "labelFontSize": 18, "labelColor": "#222222", "labelPadding": 13,
                "labelOverlap": false, "labelFlush": false, "labelBound": false,
                "ticks": false, "grid": false, "domain": true, "domainColor": "#d9d9d9", "domainWidth": 1.5}},
        "y": {"field": "v", "type": "quantitative",
              "scale": {"domain": [22000, 26000], "zero": false, "nice": false},
              "axis": {"title": null, "values": [22000, 22500, 23000, 23500, 24000, 24500, 25000, 25500, 26000], "format": ",.0f",
                "labelFont": "Roboto", "labelFontSize": 18, "labelColor": "#222222", "labelPadding": 19,
                "ticks": false, "grid": false, "domain": false, "labelFlush": false, "labelOverlap": false}},
        "color": {"field": "s", "type": "nominal",
                  "scale": {"domain": ["Tỷ giá USD NHTM bán ra", "Tỷ giá USD tự do bán ra", "Tỷ giá USD NHNN trung tâm", "Tỷ giá USD NHNN bán ra"],
                            "range": ["#f2c10f", "#13206c", "#a3161f", "#52d2ea"]},
                  "legend": {"title": null, "orient": "none", "legendX": 45, "legendY": -39, "direction": "horizontal", "columns": 4,
                             "symbolType": "stroke", "symbolSize": 1225, "symbolStrokeWidth": 3.5,
                             "labelFont": "Roboto", "labelFontSize": 18, "labelColor": "#222222", "labelOffset": 4, "labelLimit": 400,
                             "columnPadding": 107, "padding": 0}}
      }
    },
    {
      "data": {"values": [{}]},
      "mark": {"type": "rect", "filled": false, "stroke": "#a8182e", "strokeWidth": 3, "strokeDash": [20, 10]},
      "encoding": {
        "x": {"datum": {"year": 2023, "month": 12, "date": 30, "utc": true}, "type": "temporal"},
        "x2": {"datum": {"year": 2024, "month": 2, "date": 10, "utc": true}},
        "y": {"datum": 23352, "type": "quantitative",
              "axis": {"title": null, "values": [22000, 22500, 23000, 23500, 24000, 24500, 25000, 25500, 26000], "format": ",.0f",
                "labelFont": "Roboto", "labelFontSize": 18, "labelColor": "#222222", "labelPadding": 19,
                "ticks": false, "grid": false, "domain": false, "labelFlush": false, "labelOverlap": false}},
        "y2": {"datum": 25677}
      }
    },
    {
      "data": {"values": [{}]},
      "mark": {"type": "rule", "color": "#13206c", "strokeWidth": 3.3},
      "encoding": {
        "x": {"datum": {"year": 2021, "month": 11, "date": 24, "utc": true}, "type": "temporal"},
        "x2": {"datum": {"year": 2024, "month": 3, "date": 4, "utc": true}},
        "y": {"datum": 26447, "type": "quantitative",
              "axis": {"title": null, "values": [22000, 22500, 23000, 23500, 24000, 24500, 25000, 25500, 26000], "format": ",.0f",
                "labelFont": "Roboto", "labelFontSize": 18, "labelColor": "#222222", "labelPadding": 19,
                "ticks": false, "grid": false, "domain": false, "labelFlush": false, "labelOverlap": false}}
      }
    }
  ]
}
